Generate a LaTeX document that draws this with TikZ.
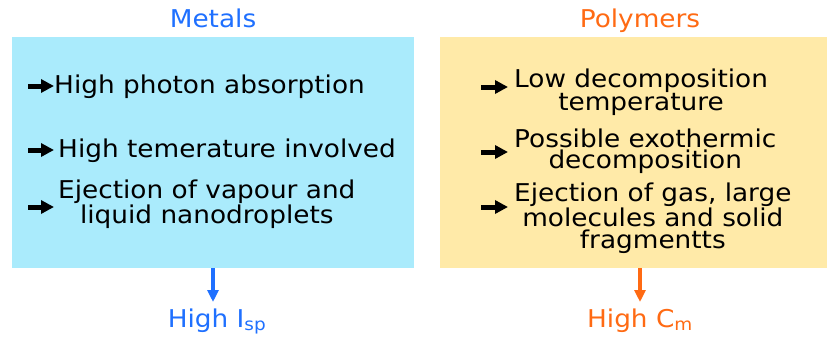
\documentclass[tikz,border=0pt]{standalone}
\usepackage{fontspec}
\setmainfont[FakeStretch=1.075]{DejaVu Sans}
\usetikzlibrary{arrows.meta}
\definecolor{mblue}{HTML}{1F70FF}
\definecolor{porange}{HTML}{FF6A13}
\definecolor{cyanbox}{HTML}{AAEBFC}
\definecolor{yellowbox}{HTML}{FFEAA8}
\begin{document}
\begin{tikzpicture}[x=1pt,y=-1pt,
  title/.style={font=\fontsize{24.5}{24}\selectfont, inner sep=0pt, anchor=base},
  item/.style={font=\fontsize{24.5}{21.5}\selectfont, align=center, inner sep=0pt, anchor=base west},
  bullet/.style={line width=5pt, -{Triangle[length=13pt,width=13pt]}},
  outarrow/.style={line width=3.5pt, -{Triangle[length=12pt,width=11pt]}}]
\useasboundingbox (0,0) rectangle (827,337);
% boxes
\fill[cyanbox] (12,37) rectangle (414,268);
\fill[yellowbox] (440,37) rectangle (827,268);
\coordinate (lbot) at (213,268);
\coordinate (rbot) at (640,268);
\coordinate (ltip) at (213,302);
\coordinate (rtip) at (640,302);
% titles
\node[title, text=mblue] (tm) at (213,28) {Metals};
\node[title, text=porange] (tp) at (640,28) {Polymers};
% left items
\coordinate (lb1s) at (28,86); \coordinate (lb1e) at (54,86);
\coordinate (lb2s) at (28,150); \coordinate (lb2e) at (54,150);
\coordinate (lb3s) at (28,207); \coordinate (lb3e) at (54,207);
\draw[bullet] (lb1s) -- (lb1e);
\draw[bullet] (lb2s) -- (lb2e);
\draw[bullet] (lb3s) -- (lb3e);
\node[item] (l1) at (54,93) {High photon absorption};
\node[item] (l2) at (58,157) {High temerature involved};
\node[item] (l3) at (58,223.5) {Ejection of vapour and\\liquid nanodroplets};
% right items
\coordinate (rb1s) at (481,87); \coordinate (rb1e) at (508,87);
\coordinate (rb2s) at (481,152); \coordinate (rb2e) at (508,152);
\coordinate (rb3s) at (481,207); \coordinate (rb3e) at (508,207);
\draw[bullet] (rb1s) -- (rb1e);
\draw[bullet] (rb2s) -- (rb2e);
\draw[bullet] (rb3s) -- (rb3e);
\node[item] (r1) at (514,110.5) {Low decomposition\\temperature};
\node[item] (r2) at (514,168.5) {Possible exothermic\\decomposition};
\node[item] (r3) at (514,248) {Ejection of gas, large\\molecules and solid\\fragmentts};
% outcomes
\node[title, text=mblue] (isp) at (217,327) {High I\textsubscript{sp}};
\node[title, text=porange] (cm) at (640,327) {High C\textsubscript{m}};
\draw[outarrow, mblue] (lbot) -- (ltip);
\draw[outarrow, porange] (rbot) -- (rtip);
\end{tikzpicture}
\end{document}
